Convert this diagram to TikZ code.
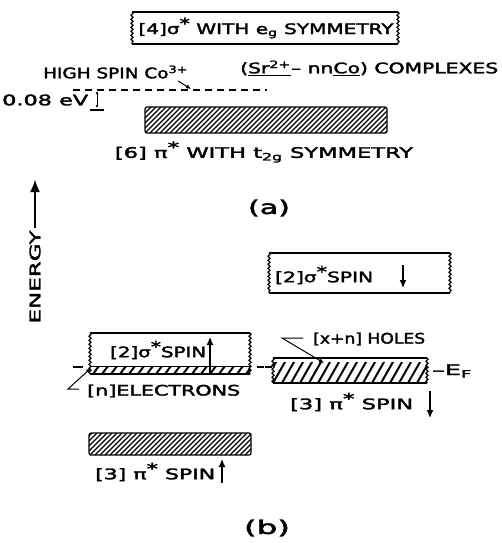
\documentclass[tikz,border=0pt]{standalone}
\usepackage{fontspec}
\usepackage{graphicx}
\setmainfont{DejaVu Sans}[FakeBold=2]
\usetikzlibrary{arrows.meta,decorations.pathmorphing}
\newcommand{\fw}[2]{\resizebox{#1pt}{\height}{#2}}
\newcommand{\bstar}{\raisebox{0.36em}{\fontsize{15}{15}\selectfont *}}
\begin{document}
\begin{tikzpicture}[x=1pt,y=-1pt,
  lab/.style={inner sep=0pt,font=\fontsize{14.5}{15}\selectfont},
  big/.style={inner sep=0pt,font=\fontsize{19}{20}\selectfont},
  edge/.style={line width=1.2pt},
  hatch/.style={line width=1.1pt},
  thatch/.style={line width=2pt,line cap=round},
  wavy/.style={decorate,decoration={snake,amplitude=1.1pt,segment length=4pt}},
  ar/.style={-{Latex[length=8pt,width=7pt]},line width=1.2pt},
  sar/.style={-{Latex[length=5pt,width=4.5pt]},line width=1pt}]
\useasboundingbox (0,0) rectangle (502,543);

% ---------------- (a) ----------------
% top box
\draw[edge] (132,12) -- (398,12);
\draw[edge] (132,44) -- (398,44);
\draw[edge,wavy] (132,12) -- (132,44);
\draw[edge,wavy] (398,12) -- (398,44);
\node[lab] (t4) at (266,28) {\fw{255}{[4]σ\bstar{} WITH e\textsubscript{g} SYMMETRY}};

\node[lab,anchor=west] (cx) at (240,68) {\fw{258}{(\underline{Sr\textsuperscript{2+}}– nn\underline{Co}) COMPLEXES}};
\node[lab,anchor=west] (hs) at (43,72) {\fw{145}{HIGH SPIN Co\textsuperscript{3+}}};
\coordinate (hsA) at (178,81);
\coordinate (hsB) at (191,89);
\draw[sar] (hsA) -- (hsB);

\coordinate (dl1) at (73,90);
\coordinate (dl2) at (267,90);
\draw[edge,dash pattern=on 7pt off 5pt] (dl1) -- (dl2);

\node[lab,anchor=west] (ev) at (2,100) {\fw{86}{0.08 eV}};
\coordinate (evA) at (97,91);
\coordinate (evB) at (97,108);
\draw[{Latex[length=3pt,width=3pt]}-{Latex[length=3pt,width=3pt]},line width=0.9pt] (evA) -- (evB);
\draw[line width=1.2pt] (90,110) -- (104,110);

% hatched t2g band
\begin{scope}
\clip (145,107) rectangle (387,133);
\foreach \i in {115,120,...,390} \draw[hatch] (\i,133) -- ++(26,-26);
\end{scope}
\draw[edge,rounded corners=2pt] (145,107) rectangle (387,133);

\node[lab] (t6) at (264,152) {\fw{298}{[6] π\bstar{} WITH t\textsubscript{2g} SYMMETRY}};
\node[big] (la) at (269,208) {\fw{42}{(a)}};

% energy axis
\node[lab,rotate=90] (en) at (35,277) {\fw{93}{ENERGY}};
\coordinate (enA) at (35,228);
\coordinate (enB) at (35,179);
\draw[-{Latex[length=13pt,width=10pt]},line width=2.8pt] (enA) -- (enB);

% ---------------- (b) ----------------
% upper right box: sigma spin down
\draw[edge] (269,253) -- (450,253);
\draw[edge] (269,293) -- (450,293);
\draw[edge,wavy] (269,253) -- (269,293);
\draw[edge,wavy] (450,253) -- (450,293);
\node[lab,anchor=west] (s2d) at (275,275) {\fw{98}{[2]σ\bstar{}SPIN}};
\coordinate (sdA) at (403,265);
\coordinate (sdB) at (403,288);
\draw[ar] (sdA) -- (sdB);

% left box: sigma spin up with electrons
\begin{scope}
\clip (90,366) rectangle (250,374);
\foreach \i in {84,93,...,252} \draw[thatch] (\i,374) -- ++(6,-8);
\end{scope}
\draw[edge] (90,333) -- (250,333);
\draw[edge] (90,374) -- (250,374);
\draw[line width=0.8pt] (90,366) -- (250,366);
\draw[edge,wavy] (90,333) -- (90,374);
\draw[edge,wavy] (250,333) -- (250,374);
\node[lab,anchor=west] (s2u) at (110,350) {\fw{96}{[2]σ\bstar{}SPIN}};
\coordinate (suA) at (210,373);
\coordinate (suB) at (210,337);
\draw[ar] (suA) -- (suB);
\draw[edge] (73,367) -- (83,367);
\draw[edge] (257,367) -- (264,367);

\node[lab,anchor=west] (el) at (87,391) {\fw{153}{[n]ELECTRONS}};
\coordinate (elA) at (79,389);
\coordinate (elK) at (68,389);
\coordinate (elB) at (91,368);
\draw[sar] (elA) -- (elK) -- (elB);

% right box: pi spin down with holes
\begin{scope}
\clip (273,362) rectangle (427,383);
\foreach \i in {255,264,...,430} \draw[thatch] (\i,383) -- ++(12,-21);
\end{scope}
\draw[edge] (273,358) -- (427,358);
\draw[edge] (273,383) -- (427,383);
\draw[edge,wavy] (273,358) -- (273,383);
\draw[edge,wavy] (427,358) -- (427,383);
\draw[edge] (265,367) -- (272,367);

\node[lab,anchor=west] (ho) at (313,339) {\fw{112}{[x+n] HOLES}};
\coordinate (hoA) at (303,338);
\coordinate (hoK) at (282,338);
\coordinate (hoB) at (324,363);
\draw[sar] (hoA) -- (hoK) -- (hoB);

\node[lab,anchor=west] (ef) at (432,371) {\fw{40}{–E\textsubscript{F}}};

\node[lab,anchor=west] (p3d) at (290,402) {\fw{123}{[3] π\bstar{} SPIN}};
\coordinate (pdA) at (430,391);
\coordinate (pdB) at (430,418);
\draw[ar] (pdA) -- (pdB);

% bottom box: pi spin up
\begin{scope}
\clip (89,433) rectangle (251,455);
\foreach \i in {65,70,...,255} \draw[hatch] (\i,455) -- ++(22,-22);
\end{scope}
\draw[edge,rounded corners=2pt] (89,433) rectangle (251,455);
\node[lab,anchor=west] (p3u) at (95,472) {\fw{120}{[3] π\bstar{} SPIN}};
\coordinate (puA) at (222,483);
\coordinate (puB) at (222,459);
\draw[ar] (puA) -- (puB);

\node[big] (lb) at (267,528) {\fw{46}{(b)}};
\end{tikzpicture}
\end{document}
